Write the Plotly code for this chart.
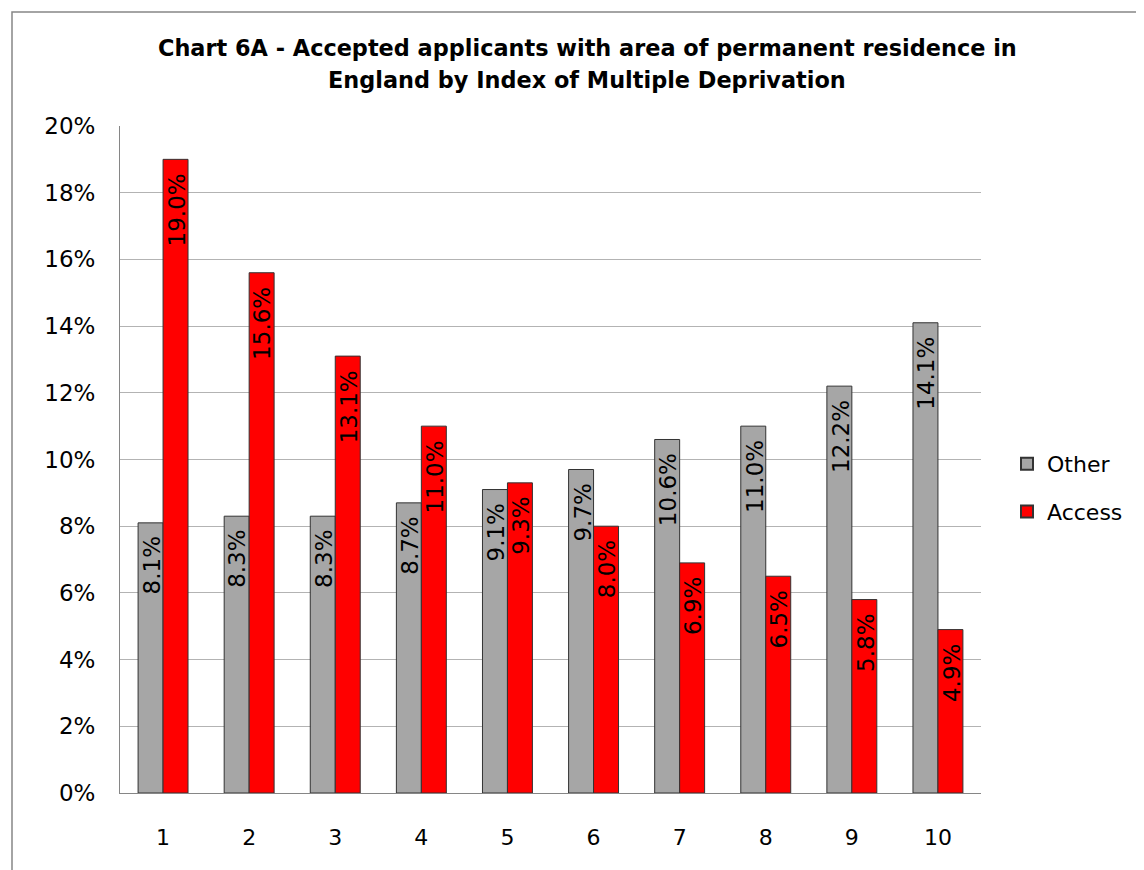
import plotly.graph_objects as go

categories = ["1", "2", "3", "4", "5", "6", "7", "8", "9", "10"]
other = [8.1, 8.3, 8.3, 8.7, 9.1, 9.7, 10.6, 11.0, 12.2, 14.1]
access = [19.0, 15.6, 13.1, 11.0, 9.3, 8.0, 6.9, 6.5, 5.8, 4.9]
y_ticks = [0, 2, 4, 6, 8, 10, 12, 14, 16, 18, 20]
y_tick_labels = [f"{v}%" for v in y_ticks]
title_lines = ["Chart 6A - Accepted applicants with area of permanent residence in",
               "England by Index of Multiple Deprivation"]

FONT = "DejaVu Sans, Verdana, sans-serif"
W, H = 1136, 862          # page shows the figure offset by the 8px body margin
ml, mr, mt, mb = 112, 163, 118, 77

pw = W - ml - mr
ph = H - mt - mb
def px_x(x):
    return (x - 8 - ml) / pw
def px_y(y):
    return (H - mb - (y - 8)) / ph

fig = go.Figure()
series = [("Other", other, "#A6A6A6", -12.5), ("Access", access, "#FF0000", 12.5)]
for name, vals, color, shift in series:
    fig.add_trace(go.Bar(
        x=categories, y=vals, name=name, legendgroup=name,
        marker=dict(color=color, line=dict(color="#333333", width=1)),
    ))
    for i, v in enumerate(vals):
        fig.add_annotation(x=i, y=v, xref="x", yref="y", text=f"{v:.1f}%",
                           showarrow=False, textangle=-90,
                           xanchor="center", yanchor="top",
                           xshift=shift + 1, yshift=-12,
                           font=dict(family=FONT, size=23, color="#000000"))

for line, ypix in zip(title_lines, [48, 80]):
    fig.add_annotation(x=px_x(587), y=px_y(ypix), xref="paper", yref="paper",
                       text=f"<b>{line}</b>", showarrow=False,
                       xanchor="center", yanchor="middle",
                       font=dict(family=FONT, size=22.4, color="#000000"))

fig.add_shape(type="rect", xref="paper", yref="paper",
              x0=px_x(12), x1=px_x(1170), y0=px_y(12), y1=px_y(900),
              line=dict(color="#868686", width=1.5), fillcolor="rgba(0,0,0,0)", layer="below")

fig.update_layout(
    width=W, height=H,
    margin=dict(l=ml, r=mr, t=mt, b=mb),
    paper_bgcolor="white", plot_bgcolor="white",
    barmode="group", bargap=0.42, bargroupgap=0,
    font=dict(family=FONT, color="#000000"),
    legend=dict(x=px_x(1007), y=px_y(488), xanchor="left", yanchor="middle",
                font=dict(size=22), itemsizing="constant", tracegroupgap=16,
                bgcolor="rgba(0,0,0,0)"),
    showlegend=True,
)
fig.update_xaxes(type="category", showline=True, linecolor="#868686", linewidth=1,
                 tickfont=dict(size=22), ticks="", showgrid=False,
                 ticklabelstandoff=25)
fig.update_yaxes(range=[0, 20], tickvals=y_ticks, ticktext=y_tick_labels,
                 showline=True, linecolor="#868686", linewidth=1,
                 showgrid=True, gridcolor="#B3B3B3", gridwidth=1,
                 tickfont=dict(size=23), ticks="", ticklabelstandoff=19,
                 zeroline=False)

fig.write_html("out.html")
